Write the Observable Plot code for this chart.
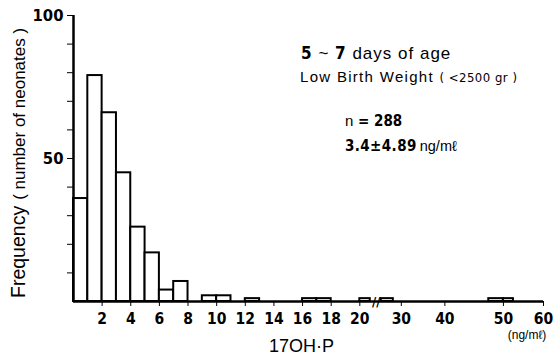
<!DOCTYPE html>
<html>
<head>
<meta charset="utf-8">
<script src="https://cdn.jsdelivr.net/npm/d3@7"></script>
<script src="https://cdn.jsdelivr.net/npm/@observablehq/plot@0.6"></script>
<style>
  html, body { margin: 0; padding: 0; background: #fff; }
  #chart svg { display: block; }
  .cond { font-family: 'DejaVu Sans Condensed', 'DejaVu Sans', sans-serif; font-stretch: condensed; font-weight: bold; }
</style>
</head>
<body>
<div id="chart"></div>
<script>
// Histogram bins of 17OH-P (ng/ml) and number of neonates
const binStart = [0, 1, 2, 3, 4, 5, 6, 7, 9, 10, 12, 16, 17, 20, 25, 47.5, 50];
const binEnd   = [1, 2, 3, 4, 5, 6, 7, 8, 10, 11, 13, 17, 18, 21, 28, 50, 52.5];
const counts   = [36, 79, 66, 45, 26, 17, 4, 7, 2, 2, 1, 1, 1, 1, 1, 1, 1];

// Axis ticks
const xTicks = [2, 4, 6, 8, 10, 12, 14, 16, 18, 20, 30, 40, 50, 60];
const yTicks = [10, 20, 30, 40, 50, 60, 70, 80, 90, 100];
const yLabeled = [50, 100];

// Broken axis: values (ng/ml) -> axis position (in 0–20 segment units); 21..25 is cut out
const breakValues    = [0, 20, 21, 25, 30, 40, 50, 60];
const breakPositions = [0, 20, 20.73, 21.5, 22.9, 25.94, 30.03, 32.83];
const breakAt = [23.2];

const xv = d3.scaleLinear().domain(breakValues).range(breakPositions);

const bins = binStart.map((s, i) => ({x1: xv(s), x2: xv(binEnd[i]), n: counts[i]}));

const W = 553, H = 358;
const cond = "'DejaVu Sans Condensed', 'DejaVu Sans', sans-serif";
const sans = "'Liberation Sans', Arial, Helvetica, sans-serif";

const chart = Plot.plot({
  width: W,
  height: H,
  marginTop: 15,
  marginBottom: 57,
  marginLeft: 73,
  marginRight: 10,
  style: {background: "#fff", color: "#000", fontFamily: cond, fontSize: "15.5px", fontWeight: "bold", overflow: "visible"},
  x: {
    type: "linear",
    domain: [0, xv(60)],
    ticks: xTicks.map(xv),
    tickFormat: d => String(Math.round(xv.invert(d))),
    tickSize: 5,
    tickPadding: 6,
    label: null
  },
  y: {
    domain: [0, 100],
    ticks: yTicks,
    tickFormat: d => yLabeled.includes(d) ? String(d) : "",
    tickSize: 6,
    tickPadding: 4,
    label: null
  },
  marks: [
    Plot.rectY(bins, {x1: "x1", x2: "x2", y1: 0, y2: "n", fill: "white", stroke: "black", strokeWidth: 2}),
    Plot.ruleY([0], {stroke: "black", strokeWidth: 2.5}),
    Plot.ruleX([0], {stroke: "black", strokeWidth: 2.5}),
    Plot.text(breakAt.map(xv), {x: d => d, y: 0, text: () => "//", fontSize: 13, fontWeight: "bold", fill: "black", dy: 0})
  ]
});

chart.querySelectorAll("g[aria-label$='axis'] line, g[aria-label$='axis'] path").forEach(el => {
  el.setAttribute("stroke-width", "2");
});
chart.querySelectorAll("text").forEach(el => el.setAttribute("font-stretch", "condensed"));
chart.querySelectorAll("g[aria-label='y-axis'] text, g[aria-label='y-axis tick label'] text").forEach(el => {
  el.setAttribute("font-size", "16.5px");
});

document.getElementById("chart").appendChild(chart);

const svg = d3.select(chart);

// y-axis title (rotated)
const yl = svg.append("text")
  .attr("transform", "translate(25,298) rotate(-90)")
  .attr("text-anchor", "start")
  .style("font-family", sans)
  .style("font-weight", "normal")
  .attr("fill", "#000");
yl.append("tspan").style("font-size", "19.5px").text("Frequency");
yl.append("tspan").style("font-size", "17px").attr("dx", 6).text("( number of neonates )");

// x-axis title and unit
svg.append("text")
  .attr("x", 269).attr("y", 352)
  .attr("text-anchor", "start")
  .style("font-family", sans).style("font-weight", "normal").style("font-size", "18px")
  .attr("fill", "#000")
  .text("17OH·P");

svg.append("text")
  .attr("x", 527).attr("y", 339)
  .attr("text-anchor", "middle")
  .style("font-family", sans).style("font-weight", "normal").style("font-size", "12px")
  .attr("fill", "#000")
  .text("(ng/mℓ)");

// annotation block
const ann = svg.append("g").attr("fill", "#000").attr("text-anchor", "start").style("font-weight", "normal");
const t1 = ann.append("text").attr("x", 301).attr("y", 59).style("font-family", sans).style("font-size", "17px").style("letter-spacing", "1px");
t1.append("tspan").attr("class", "cond").text("5");
t1.append("tspan").text(" ~ ");
t1.append("tspan").attr("class", "cond").text("7");
t1.append("tspan").text(" days of age");

const t2 = ann.append("text").attr("x", 300).attr("y", 82).style("font-family", sans).style("font-size", "15px");
t2.append("tspan").style("letter-spacing", "1.3px").text("Low Birth Weight ");
t2.append("tspan").attr("class", "cond").style("font-weight", "normal").style("font-size", "13px").style("letter-spacing", "0.5px").text("( <2500 gr )");

const t3 = ann.append("text").attr("x", 345).attr("y", 126).style("font-family", sans).style("font-size", "15px");
t3.append("tspan").text("n");
t3.append("tspan").attr("class", "cond").text(" = 288");

const t4 = ann.append("text").attr("x", 345).attr("y", 151).style("font-family", sans).style("font-size", "15px");
t4.append("tspan").attr("class", "cond").style("letter-spacing", "0.4px").text("3.4±4.89");
t4.append("tspan").style("font-size", "14.5px").attr("dx", 3).text("ng/mℓ");
</script>
</body>
</html>
